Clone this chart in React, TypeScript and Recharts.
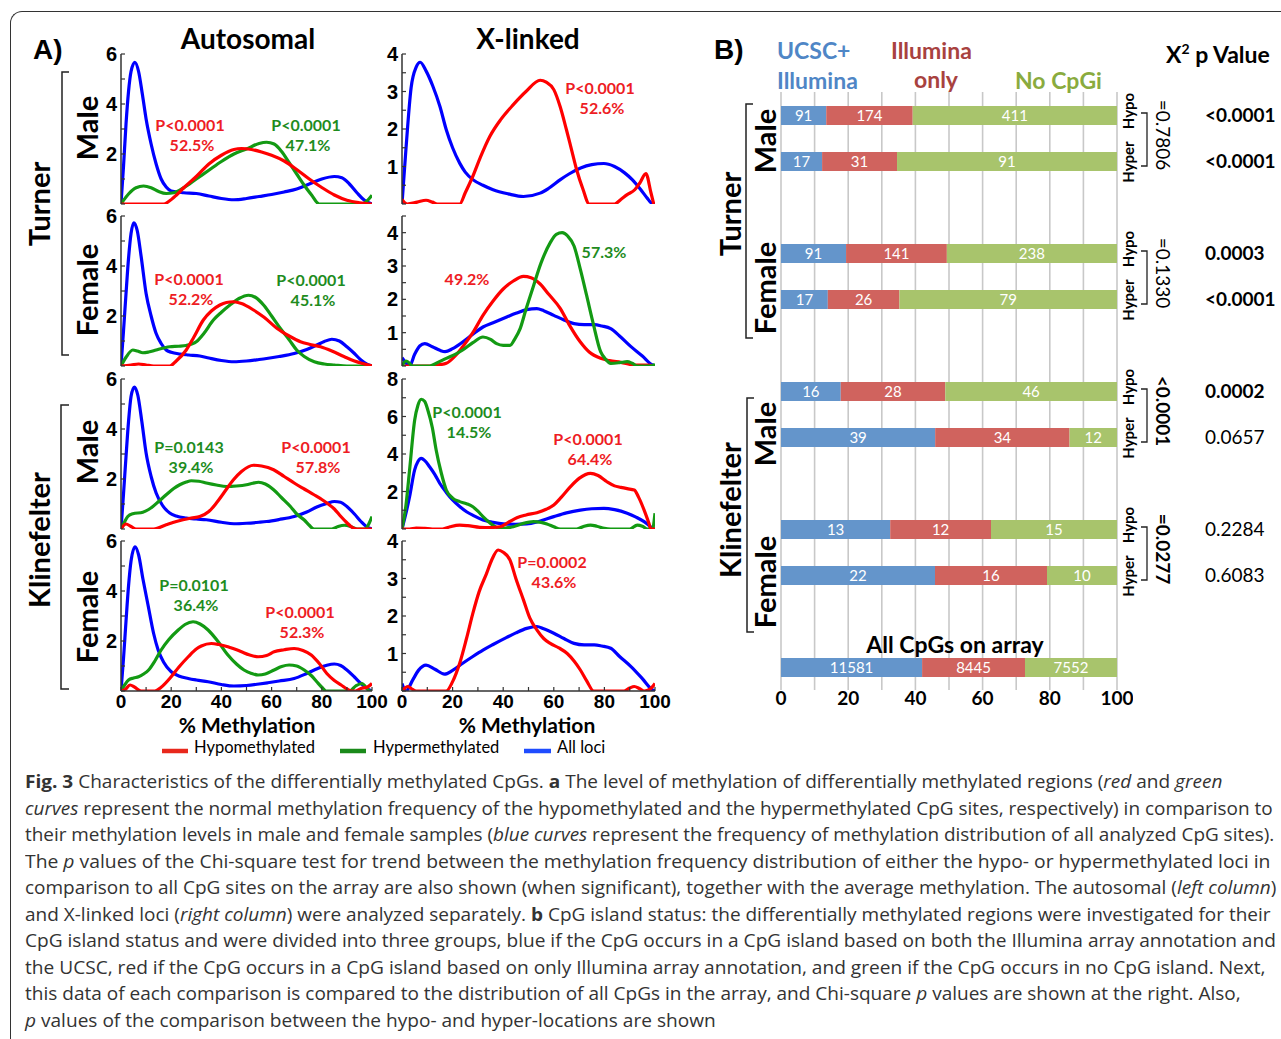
import React, { useLayoutEffect, useRef, useState } from 'react';
import { LineChart, Line, XAxis, YAxis, BarChart, Bar, CartesianGrid, LabelList } from 'recharts';

type Pt = [number, number];

// ---------- panel A: density curves, [% methylation, density] ----------
const autoTurnerMaleAll: Pt[] = [[0,0],[1,1.5],[2,3.2],[3,4.5],[4,5.3],[5.5,5.67],[7,5.3],[8.5,4.4],[10,3.4],[12,2.4],[14,1.6],[16,1.0],[18,0.68],[20,0.52],[25,0.45],[30,0.42],[35,0.32],[40,0.22],[45,0.17],[50,0.22],[55,0.3],[60,0.38],[65,0.48],[70,0.6],[75,0.8],[80,1.0],[85,1.1],[88,1.05],[91,0.8],[94,0.45],[97,0.15],[100,0]];
const autoTurnerMaleHyper: Pt[] = [[0,0],[3,0.4],[6,0.65],[9,0.72],[12,0.65],[15,0.5],[18,0.42],[21,0.45],[25,0.65],[30,1.0],[35,1.35],[40,1.7],[45,2.0],[50,2.2],[55,2.42],[58,2.47],[61,2.4],[64,2.1],[67,1.65],[70,1.2],[73,0.75],[76,0.35],[79,0],[96,0],[100,0.35]];
const autoTurnerMaleHypo: Pt[] = [[0,0],[17,0],[19,0.1],[22,0.35],[25,0.65],[30,1.1],[35,1.6],[40,1.95],[45,2.18],[48,2.22],[52,2.18],[56,2.08],[60,1.95],[65,1.72],[70,1.38],[75,1.0],[80,0.66],[85,0.36],[90,0.15],[95,0.05],[100,0]];

const xTurnerMaleAll: Pt[] = [[0,0],[1.6,1.5],[3.6,3.1],[5.6,3.65],[7.2,3.78],[9.5,3.55],[12.2,3.14],[15,2.6],[17.5,1.98],[20,1.5],[22.8,1.09],[25,0.85],[28,0.65],[32,0.5],[36,0.38],[42,0.27],[48,0.2],[54.6,0.29],[58,0.42],[62.6,0.65],[66,0.8],[70.6,0.96],[75,1.05],[79.8,1.08],[84,1.0],[88,0.83],[91,0.65],[94.4,0.38],[97,0.15],[98.5,0.03],[100,0]];
const xTurnerMaleHypo: Pt[] = [[0,0.12],[2,0],[6,0.05],[9.5,0.1],[12,0.05],[14,0],[22.8,0],[25,0.3],[28,0.74],[31,1.25],[34.7,1.8],[39,2.25],[44,2.65],[49,3.0],[54.6,3.3],[57,3.25],[60,3.05],[62.5,2.6],[65,1.98],[67,1.45],[69,0.92],[71.5,0.4],[74,0],[84,0],[86.5,0.12],[89,0.25],[92,0.38],[94,0.56],[96.4,0.81],[98.4,0.3],[99.5,0]];

const autoTurnerFemaleAll: Pt[] = [[0,0],[1,1.4],[2,2.9],[3,4.3],[4,5.3],[5.1,5.73],[6.5,5.4],[8,4.4],[10,2.9],[12,2.0],[14,1.3],[16,0.9],[18,0.64],[20,0.55],[23.4,0.48],[27,0.44],[31.4,0.4],[35,0.32],[40,0.22],[45,0.17],[50,0.2],[55,0.26],[58,0.3],[63,0.38],[69,0.5],[74,0.66],[78,0.84],[81,0.98],[84,1.07],[87,1.0],[90,0.77],[93,0.5],[95.6,0.24],[98,0.07],[100,0]];
const autoTurnerFemaleHyper: Pt[] = [[0,0],[2,0.35],[4.7,0.64],[6.5,0.6],[8.7,0.53],[11,0.56],[14,0.64],[17,0.72],[19.4,0.77],[23,0.79],[26,0.82],[30,0.97],[33,1.3],[36.8,1.84],[40,2.15],[43.4,2.44],[47,2.7],[50.8,2.83],[53.5,2.75],[56.8,2.44],[60,2.0],[63.5,1.5],[67,1.05],[70,0.64],[73,0.38],[77,0.17],[81,0.08],[85,0.04],[90,0],[100,0]];
const autoTurnerFemaleHypo: Pt[] = [[0,0],[4,0.04],[7,0.08],[10,0.04],[13,0],[19.4,0],[22,0.2],[26,0.64],[29,1.15],[32.8,1.84],[36,2.2],[39.4,2.44],[42,2.54],[44.8,2.57],[48,2.5],[52.8,2.24],[57,1.95],[62.2,1.5],[67,1.2],[71.5,0.97],[75,0.87],[79.5,0.77],[84,0.6],[89,0.37],[93,0.2],[97,0.08],[100,0]];

const xTurnerFemaleAll: Pt[] = [[0,0.25],[1.5,0.1],[3,0],[5,0.35],[7,0.6],[9,0.67],[12,0.58],[15,0.47],[17,0.43],[20,0.52],[24,0.72],[28,0.95],[32,1.17],[36,1.3],[41.4,1.47],[45,1.58],[49.3,1.69],[53.3,1.72],[56,1.66],[60,1.52],[64,1.38],[68,1.27],[72,1.24],[76,1.24],[79,1.2],[82.5,1.12],[86,0.9],[90.5,0.58],[95,0.3],[99,0.03],[100,0]];
const xTurnerFemaleHyper: Pt[] = [[0,0],[1.6,0.15],[3,0.08],[4,0],[11,0],[14,0.1],[17.5,0.23],[21,0.35],[24,0.48],[28,0.7],[32,0.87],[35,0.8],[37.4,0.67],[40,0.62],[42.7,0.62],[44.5,0.8],[46.7,1.12],[49,1.7],[52,2.41],[55,3.1],[58.6,3.7],[61,3.95],[63.3,4.0],[65.5,3.9],[68,3.6],[70.5,2.9],[73,2.11],[75.5,1.3],[78.5,0.43],[80.5,0.2],[82.5,0.08],[86,0.1],[89,0.13],[91,0.08],[93,0],[98,0],[100,0.05]];
const xTurnerFemaleHypo: Pt[] = [[0,0],[11,0],[14,0.03],[17.5,0.08],[21,0.3],[24,0.58],[28,1.0],[32,1.52],[36,1.95],[40,2.31],[44,2.55],[48,2.69],[51,2.65],[54.6,2.46],[58,2.15],[62.6,1.72],[66,1.25],[70.5,0.72],[74,0.42],[78.5,0.23],[82,0.16],[86.5,0.11],[92,0.03],[97,0.03],[100,0]];

const autoKlineMaleAll: Pt[] = [[0,0],[1,1.4],[2,2.9],[3,4.3],[4,5.3],[5.3,5.68],[6.7,5.35],[8.3,4.3],[10,3.04],[12,2.1],[14,1.44],[16.5,0.95],[19.4,0.64],[22,0.52],[26,0.44],[30,0.4],[34,0.37],[40,0.27],[45,0.21],[50,0.23],[55,0.27],[58,0.3],[63,0.38],[69,0.5],[74,0.68],[78,0.88],[82,1.02],[85,1.1],[87.5,1.07],[90,0.9],[93,0.6],[95.6,0.3],[98,0.08],[100,0]];
const autoKlineMaleHyper: Pt[] = [[0,0],[1.5,0.3],[2.7,0.5],[4.7,0.61],[8.7,0.67],[11,0.78],[12.7,0.9],[15,1.1],[18,1.37],[21,1.62],[23.4,1.77],[26,1.88],[28,1.93],[31,1.91],[34,1.84],[38,1.76],[42,1.7],[46,1.72],[50,1.77],[52.5,1.83],[54.8,1.87],[57.5,1.8],[60.8,1.57],[64,1.25],[67.5,0.9],[70,0.6],[72.9,0.37],[75,0.15],[76.9,0],[84,0],[86.5,0.1],[89,0.15],[91.5,0.1],[94,0],[97,0],[100,0.5]];
const autoKlineMaleHypo: Pt[] = [[0,0],[2,0.2],[4,0.1],[6,0],[13,0],[18,0.17],[21,0.27],[24.7,0.37],[28,0.44],[31.4,0.5],[35,0.7],[38,1.04],[41,1.45],[44.8,1.97],[48,2.3],[52.8,2.55],[56,2.52],[60.8,2.37],[65,2.1],[69,1.84],[73,1.6],[76.9,1.37],[80,1.18],[82,1.04],[85,0.8],[87.6,0.5],[90,0.25],[91.6,0.1],[94,0],[100,0]];

const xKlineMaleAll: Pt[] = [[0,0],[1.5,0.8],[3,1.72],[5,3.15],[6.3,3.6],[7.6,3.77],[9,3.65],[10.9,3.32],[13,2.9],[14.9,2.44],[17.5,1.95],[20,1.55],[22.8,1.2],[25.5,0.92],[28.5,0.7],[32,0.48],[36,0.35],[40,0.27],[45,0.25],[49.3,0.27],[54,0.4],[60,0.66],[65,0.86],[70.5,1.01],[75,1.08],[79.8,1.1],[84,1.03],[89,0.84],[92.5,0.63],[95.7,0.39],[98,0.15],[99,0.03],[100,0]];
const xKlineMaleHyper: Pt[] = [[0,0],[1.5,1.2],[3,3.15],[5,5.8],[6.3,6.6],[7.6,6.92],[9,6.8],[10.2,6.35],[12,5.4],[13.5,4.21],[15.5,3.0],[17.5,2.08],[20,1.65],[22.8,1.46],[25.5,1.35],[28,1.19],[30,0.95],[32,0.66],[35,0.3],[38.7,0.03],[41,0.05],[44,0.12],[48,0.3],[52,0.39],[55,0.35],[57.3,0.27],[60,0.12],[62.6,0],[69,0],[72,0.15],[74.5,0.21],[77,0.15],[80,0.03],[82.5,0],[90,0],[93,0.21],[95,0.15],[97,0],[99,0],[100,0.84]];
const xKlineMaleHypo: Pt[] = [[0,0],[3,0],[5.6,0.05],[9,0.03],[12,0],[16,0],[19,0.12],[22.8,0.21],[26,0.18],[30.8,0.09],[35,0.08],[38.7,0.12],[42,0.35],[45.4,0.6],[49,0.75],[53.3,0.87],[57,1.05],[60,1.28],[63,1.7],[66.6,2.26],[70,2.7],[74.5,2.97],[77.5,2.85],[81,2.52],[84,2.3],[86.5,2.22],[89,2.15],[91.8,2.08],[93.5,1.7],[95.7,1.01],[97.5,0.35],[98.4,0],[100,0]];

const autoKlineFemaleAll: Pt[] = [[0,0],[1,1.3],[2,2.8],[3,4.2],[4,5.2],[5.6,5.77],[7,5.45],[8.7,4.5],[10.9,3.37],[13,2.3],[14.8,1.64],[17,1.15],[20,0.77],[23,0.6],[26.8,0.5],[30,0.44],[34.7,0.37],[40,0.26],[45,0.2],[50,0.22],[55,0.28],[58.5,0.33],[63,0.4],[69,0.5],[74,0.7],[78.4,0.9],[82,1.03],[85,1.08],[87.5,1.02],[90,0.84],[93,0.56],[95.6,0.3],[98,0.1],[100,0]];
const autoKlineFemaleHyper: Pt[] = [[0,0],[1.5,0.25],[3,0.44],[5,0.52],[7,0.57],[9,0.68],[11,0.84],[13.5,1.2],[16,1.64],[19,2.05],[22.8,2.44],[25.5,2.66],[28.7,2.77],[31.5,2.68],[34.7,2.44],[38.5,2.0],[42.6,1.44],[46,1.08],[49,0.84],[52,0.7],[54.6,0.64],[57.5,0.68],[61,0.84],[64,0.98],[67,1.04],[70,1.0],[73,0.84],[76,0.6],[78,0.37],[80,0.15],[81.7,0],[91,0],[93.5,0.2],[96,0.3],[98,0.1],[99,0],[100,0]];
const autoKlineFemaleHypo: Pt[] = [[0,0],[1.6,0.05],[3.6,0.24],[5.5,0.15],[8,0],[13.5,0],[16,0.15],[20,0.57],[23,0.95],[26.8,1.37],[30,1.68],[32,1.8],[36,1.9],[39,1.86],[42.6,1.77],[48,1.57],[51,1.45],[54.6,1.37],[58,1.42],[61,1.57],[65,1.65],[69,1.7],[72.5,1.62],[75.8,1.44],[79,1.1],[82,0.7],[85,0.42],[87.7,0.24],[90,0.08],[91.6,0],[93.5,0],[95.6,0.1],[98,0.15],[100,0.3]];

const xKlineFemaleAll: Pt[] = [[0,0.2],[1.6,0],[4.2,0.29],[6.5,0.55],[9.5,0.69],[13,0.58],[16.8,0.45],[20,0.55],[24,0.74],[28,0.92],[32,1.09],[36,1.24],[41.4,1.43],[45,1.55],[49.3,1.67],[53.3,1.72],[56,1.66],[60,1.54],[64,1.4],[68,1.27],[72,1.23],[76,1.23],[79,1.2],[82.5,1.14],[86,0.92],[90.5,0.65],[95,0.33],[99,0.03],[100,0]];
const xKlineFemaleHypo: Pt[] = [[0,0],[2.3,0.12],[4,0.05],[5.6,0],[17.5,0],[20,0.25],[22.8,0.74],[25.5,1.4],[28,2.07],[30.5,2.65],[33.4,3.13],[35.5,3.5],[38,3.76],[40,3.7],[42.7,3.49],[45,3.0],[48,2.43],[50.5,1.95],[53.3,1.63],[56,1.4],[58.6,1.27],[62,1.15],[65.3,1.0],[68,0.8],[70.5,0.56],[73,0.27],[75.8,0],[87.8,0],[90,0.08],[91.8,0.12],[94,0.06],[95.7,0],[98,0.05],[100,0.2]];

// axis ticks for panel A
const methTicks = [0, 10, 20, 30, 40, 50, 60, 70, 80, 90, 100];
const methLabels = [0, 20, 40, 60, 80, 100];
const autoYTicks = [0, 1, 2, 3, 4, 5, 6];
const autoYLabels = [2, 4, 6];
const xYTicks4 = [0, 0.5, 1, 1.5, 2, 2.5, 3, 3.5, 4];
const xYTicks45 = [0, 0.5, 1, 1.5, 2, 2.5, 3, 3.5, 4, 4.5];
const xYLabels4 = [1, 2, 3, 4];
const xYTicks8 = [0, 1, 2, 3, 4, 5, 6, 7, 8];
const xYLabels8 = [2, 4, 6, 8];

// ---------- panel B: CpG island status counts ----------
const bCategories = ['TM hypo', 'TM hyper', 'gap1', 'TF hypo', 'TF hyper', 'gap2', 'KM hypo', 'KM hyper', 'gap3', 'KF hypo', 'KF hyper', 'gap4', 'All CpGs'];
const ucscIllumina = [91, 17, null, 91, 17, null, 16, 39, null, 13, 22, null, 11581];
const illuminaOnly = [174, 31, null, 141, 26, null, 28, 34, null, 12, 16, null, 8445];
const noCpGi = [411, 91, null, 238, 79, null, 46, 12, null, 15, 10, null, 7552];
const bTicks = [0, 0.1, 0.2, 0.3, 0.4, 0.5, 0.6, 0.7, 0.8, 0.9, 1];
const bTickLabels = ['0', '20', '40', '60', '80', '100'];
const chiP = ['<0.0001', '<0.0001', '0.0003', '<0.0001', '0.0002', '0.0657', '0.2284', '0.6083'];
const chiBold = [true, true, true, true, true, false, false, false];
const hypoHyperP = ['=0.7806', '=0.1330', '<0.0001', '=0.0277'];

const ARIAL = '"Liberation Sans", Arial, sans-serif';
const LATO = 'Lato, "Open Sans", sans-serif';
const OPEN = '"Open Sans", "Noto Sans", sans-serif';
const RED = '#ff0000';
const GREEN = '#139a13';
const BLUE = '#0000ff';
const AX = '#333';
const PLOT_H = 150;

const tickX = { fontFamily: ARIAL, fontWeight: 700, fontSize: 19, fill: '#000' };
const tickY = { fontFamily: ARIAL, fontWeight: 700, fontSize: 20, fill: '#000' };

type Curve = { pts: Pt[]; color: string };

function DensityPlot({ left, top, width, yTicks, yLabels, curves, showX }: {
  left: number; top: number; width: number; yTicks: number[]; yLabels: number[]; curves: Curve[]; showX?: boolean;
}) {
  const yMax = yTicks[yTicks.length - 1];
  const xh = showX ? 34 : 0;
  return (
    <div style={{ position: 'absolute', left: left - 30, top: top - 12 }}>
      <LineChart width={30 + width + 20} height={12 + PLOT_H + (showX ? xh : 4)} margin={{ top: 12, right: 20, bottom: showX ? 0 : 4, left: 0 }}>
        <XAxis xAxisId="b" type="number" dataKey="m" domain={[0, 100]} allowDataOverflow ticks={methTicks} interval={0}
          height={xh} tickSize={-4} tickMargin={8} tick={showX ? tickX : false}
          tickFormatter={(v: number) => (methLabels.includes(v) ? String(v) : '')}
          axisLine={{ stroke: AX, strokeWidth: 1.5 }} tickLine={{ stroke: AX, strokeWidth: 1.2 }} />
        <XAxis xAxisId="t" orientation="top" type="number" domain={[0, 100]} allowDataOverflow ticks={methTicks} interval={0}
          height={0} tickSize={-4} tick={false} axisLine={{ stroke: AX, strokeWidth: 1.5 }} tickLine={{ stroke: AX, strokeWidth: 1.2 }} />
        <YAxis yAxisId="l" type="number" domain={[0, yMax]} allowDataOverflow ticks={yTicks} interval={0} width={30}
          tickSize={-4} tickMargin={8} tick={tickY}
          tickFormatter={(v: number) => (yLabels.includes(v) ? String(v) : '')}
          axisLine={{ stroke: AX, strokeWidth: 1.5 }} tickLine={{ stroke: AX, strokeWidth: 1.2 }} />
        <YAxis yAxisId="r" orientation="right" type="number" domain={[0, yMax]} allowDataOverflow ticks={yTicks} interval={0} width={0}
          tickSize={-4} tick={false} axisLine={{ stroke: AX, strokeWidth: 1.5 }} tickLine={{ stroke: AX, strokeWidth: 1.2 }} />
        {curves.map((c, i) => (
          <Line key={i} xAxisId="b" yAxisId="l" data={c.pts.map(([m, d]) => ({ m, d }))} dataKey="d" type="monotone"
            stroke={c.color} strokeWidth={3.2} dot={false} activeDot={false} isAnimationActive={false} />
        ))}
      </LineChart>
    </div>
  );
}

function CapLine({ top, target, children }: { top: number; target: number; children: React.ReactNode }) {
  const ref = useRef<HTMLSpanElement>(null);
  const [k, setK] = useState(1);
  useLayoutEffect(() => {
    const el = ref.current;
    if (el && el.offsetWidth > 0) setK(target / el.offsetWidth);
  }, [target]);
  return (
    <div style={{ position: 'absolute', left: 25, top, whiteSpace: 'nowrap', lineHeight: '24px', transformOrigin: '0 0', transform: `scaleX(${k})` }}>
      <span ref={ref} style={{ display: 'inline-block' }}>{children}</span>
    </div>
  );
}

const rowTops = [54, 216, 379, 541];
const autoLeft = 121, autoW = 251;
const xLeft = 402, xW = 253;
const bBarY = [115, 161, 253, 299, 391, 437, 529, 575];

function Rot({ x, y, angle, size, bold = true, children, family = LATO }: { x: number; y: number; angle: number; size: number; bold?: boolean; children: React.ReactNode; family?: string }) {
  return (
    <text transform={`translate(${x},${y}) rotate(${angle})`} textAnchor="middle" fontFamily={family} fontWeight={bold ? 700 : 400} fontSize={size} fill="#000">{children}</text>
  );
}

function Note({ x, y, color, lines }: { x: number; y: number; color: string; lines: string[] }) {
  return (
    <g fontFamily={LATO} fontWeight={700} fontSize={16} fill={color} textAnchor="middle">
      {lines.map((t, i) => <text key={i} x={x + i * 2} y={y + i * 19.5}>{t}</text>)}
    </g>
  );
}

export default function App() {
  const bRows = bCategories.map((name, i) => ({ name, ucsc: ucscIllumina[i], illum: illuminaOnly[i], none: noCpGi[i] }));
  const lbl = { position: 'center' as const, fill: '#fff', fontSize: 15, fontFamily: LATO, formatter: (v: any) => (v == null ? '' : v) };
  return (
    <div style={{ position: 'absolute', left: 0, top: 0, width: 1281, height: 1039, background: '#fff', overflow: 'hidden', fontFamily: OPEN }}>
      <div style={{ position: 'absolute', left: 10, top: 11, width: 1400, height: 1200, borderTop: '1.5px solid #333', borderLeft: '1.5px solid #333', borderTopLeftRadius: 12 }} />

      {/* Panel A */}
      <DensityPlot left={autoLeft} top={rowTops[0]} width={autoW} yTicks={autoYTicks} yLabels={autoYLabels}
        curves={[{ pts: autoTurnerMaleAll, color: BLUE }, { pts: autoTurnerMaleHyper, color: GREEN }, { pts: autoTurnerMaleHypo, color: RED }]} />
      <DensityPlot left={xLeft} top={rowTops[0]} width={xW} yTicks={xYTicks4} yLabels={xYLabels4}
        curves={[{ pts: xTurnerMaleAll, color: BLUE }, { pts: xTurnerMaleHypo, color: RED }]} />
      <DensityPlot left={autoLeft} top={rowTops[1]} width={autoW} yTicks={autoYTicks} yLabels={autoYLabels}
        curves={[{ pts: autoTurnerFemaleAll, color: BLUE }, { pts: autoTurnerFemaleHyper, color: GREEN }, { pts: autoTurnerFemaleHypo, color: RED }]} />
      <DensityPlot left={xLeft} top={rowTops[1]} width={xW} yTicks={xYTicks45} yLabels={xYLabels4}
        curves={[{ pts: xTurnerFemaleAll, color: BLUE }, { pts: xTurnerFemaleHypo, color: RED }, { pts: xTurnerFemaleHyper, color: GREEN }]} />
      <DensityPlot left={autoLeft} top={rowTops[2]} width={autoW} yTicks={autoYTicks} yLabels={autoYLabels}
        curves={[{ pts: autoKlineMaleAll, color: BLUE }, { pts: autoKlineMaleHyper, color: GREEN }, { pts: autoKlineMaleHypo, color: RED }]} />
      <DensityPlot left={xLeft} top={rowTops[2]} width={xW} yTicks={xYTicks8} yLabels={xYLabels8}
        curves={[{ pts: xKlineMaleAll, color: BLUE }, { pts: xKlineMaleHyper, color: GREEN }, { pts: xKlineMaleHypo, color: RED }]} />
      <DensityPlot left={autoLeft} top={rowTops[3]} width={autoW} yTicks={autoYTicks} yLabels={autoYLabels} showX
        curves={[{ pts: autoKlineFemaleAll, color: BLUE }, { pts: autoKlineFemaleHyper, color: GREEN }, { pts: autoKlineFemaleHypo, color: RED }]} />
      <DensityPlot left={xLeft} top={rowTops[3]} width={xW} yTicks={xYTicks4} yLabels={xYLabels4} showX
        curves={[{ pts: xKlineFemaleAll, color: BLUE }, { pts: xKlineFemaleHypo, color: RED }]} />

      {/* Panel B */}
      <div style={{ position: 'absolute', left: 771, top: 92 }}>
        <BarChart layout="vertical" width={362} height={628} data={bRows} stackOffset="expand" barSize={19}
          margin={{ top: 0, right: 16, bottom: 0, left: 10 }}>
          <CartesianGrid horizontal={false} stroke="#c8c8c8" strokeWidth={1.6} />
          <XAxis type="number" domain={[0, 1]} ticks={bTicks} interval={0} height={30} axisLine={false} tickLine={false}
            tickSize={0} tickMargin={2} tick={{ fontFamily: LATO, fontWeight: 700, fontSize: 19, fill: '#000' }}
            tickFormatter={(v: number) => { const s = String(Math.round(v * 100)); return bTickLabels.includes(s) ? s : ''; }} />
          <YAxis type="category" dataKey="name" hide />
          <Bar dataKey="ucsc" stackId="s" fill="#6495cb" isAnimationActive={false}><LabelList dataKey="ucsc" {...lbl} /></Bar>
          <Bar dataKey="illum" stackId="s" fill="#d0635e" isAnimationActive={false}><LabelList dataKey="illum" {...lbl} /></Bar>
          <Bar dataKey="none" stackId="s" fill="#a8c46c" isAnimationActive={false}><LabelList dataKey="none" {...lbl} /></Bar>
        </BarChart>
      </div>

      <svg width={1281} height={1039} style={{ position: 'absolute', left: 0, top: 0, pointerEvents: 'none' }}>
        {/* panel A labels */}
        <text x={33} y={59} fontFamily={ARIAL} fontWeight={700} fontSize={28}>A)</text>
        <text x={248} y={49} textAnchor="middle" fontFamily={LATO} fontWeight={700} fontSize={28}>Autosomal</text>
        <text x={528} y={49} textAnchor="middle" fontFamily={LATO} fontWeight={700} fontSize={28}>X-linked</text>
        <Rot x={50} y={204} angle={-90} size={29}>Turner</Rot>
        <Rot x={50} y={540} angle={-90} size={29}>Klinefelter</Rot>
        <Rot x={98} y={128} angle={-90} size={29}>Male</Rot>
        <Rot x={98} y={290} angle={-90} size={29}>Female</Rot>
        <Rot x={98} y={452} angle={-90} size={29}>Male</Rot>
        <Rot x={98} y={617} angle={-90} size={29}>Female</Rot>
        <g fill="none" stroke="#222" strokeWidth={1.5}>
          <path d="M69,72 H62 V355 H69" />
          <path d="M69,405 H61 V689 H69" />
        </g>
        <Note x={190} y={131} color="#ee1c24" lines={['P<0.0001', '52.5%']} />
        <Note x={306} y={131} color="#1e8c1e" lines={['P<0.0001', '47.1%']} />
        <Note x={600} y={94} color="#ee1c24" lines={['P<0.0001', '52.6%']} />
        <Note x={189} y={285} color="#ee1c24" lines={['P<0.0001', '52.2%']} />
        <Note x={311} y={286} color="#1e8c1e" lines={['P<0.0001', '45.1%']} />
        <Note x={467} y={285} color="#ee1c24" lines={['49.2%']} />
        <Note x={604} y={258} color="#1e8c1e" lines={['57.3%']} />
        <Note x={189} y={453} color="#1e8c1e" lines={['P=0.0143', '39.4%']} />
        <Note x={316} y={453} color="#ee1c24" lines={['P<0.0001', '57.8%']} />
        <Note x={467} y={418} color="#1e8c1e" lines={['P<0.0001', '14.5%']} />
        <Note x={588} y={445} color="#ee1c24" lines={['P<0.0001', '64.4%']} />
        <Note x={194} y={591} color="#1e8c1e" lines={['P=0.0101', '36.4%']} />
        <Note x={300} y={618} color="#ee1c24" lines={['P<0.0001', '52.3%']} />
        <Note x={552} y={568} color="#ee1c24" lines={['P=0.0002', '43.6%']} />
        <text x={247} y={733} textAnchor="middle" fontFamily={LATO} fontWeight={700} fontSize={21}>% Methylation</text>
        <text x={527} y={733} textAnchor="middle" fontFamily={LATO} fontWeight={700} fontSize={21}>% Methylation</text>
        <g strokeWidth={4.5}>
          <line x1={162} x2={188} y1={751} y2={751} stroke="#e8281c" />
          <line x1={340} x2={366} y1={751} y2={751} stroke="#1a8a1a" />
          <line x1={524} x2={551} y1={751} y2={751} stroke="#1f4cff" />
        </g>
        <g fontFamily={LATO} fontSize={16.5} fill="#000">
          <text x={194} y={753}>Hypomethylated</text>
          <text x={373} y={753}>Hypermethylated</text>
          <text x={557} y={753}>All loci</text>
        </g>

        {/* panel B labels */}
        <text x={714} y={59} fontFamily={ARIAL} fontWeight={700} fontSize={28}>B)</text>
        <g fontFamily={LATO} fontWeight={700} fontSize={23}>
          <text x={777} y={59} fill="#4f86c6">UCSC+</text>
          <text x={777} y={89} fill="#4f86c6">Illumina</text>
          <text x={891} y={59} fill="#a8423f">Illumina</text>
          <text x={936} y={88} fill="#a8423f" textAnchor="middle">only</text>
          <text x={1015} y={89} fill="#8aab3e">No CpGi</text>
          <text x={1166} y={63} fill="#000">X<tspan fontSize={14} dy={-9}>2</tspan><tspan dy={9}> p Value</tspan></text>
        </g>
        <Rot x={741} y={214} angle={-90} size={29}>Turner</Rot>
        <Rot x={741} y={510} angle={-90} size={29}>Klinefelter</Rot>
        <Rot x={776} y={141} angle={-90} size={29}>Male</Rot>
        <Rot x={776} y={288} angle={-90} size={29}>Female</Rot>
        <Rot x={776} y={434} angle={-90} size={29}>Male</Rot>
        <Rot x={776} y={582} angle={-90} size={29}>Female</Rot>
        <g fill="none" stroke="#222" strokeWidth={1.5}>
          <path d="M753,104 H746 V338 H753" />
          <path d="M754,398 H747 V632 H754" />
        </g>
        {[0, 1, 2, 3].map((g) => {
          const y1 = bBarY[g * 2], y2 = bBarY[g * 2 + 1];
          return (
            <g key={g}>
              <Rot x={1134} y={y1 - 4} angle={-90} size={15}>Hypo</Rot>
              <Rot x={1134} y={y2 + 1} angle={-90} size={15}>Hyper</Rot>
              <path d={`M1141,${y1 - 2} H1147 V${y2 + 5} H1141`} fill="none" stroke="#222" strokeWidth={1.3} />
              <Rot x={1156} y={(y1 + y2) / 2 - 3} angle={90} size={19} bold={g >= 2}>{hypoHyperP[g]}</Rot>
            </g>
          );
        })}
        <g fontFamily={LATO} fontSize={19} fill="#000">
          {chiP.map((p, i) => (
            <text key={i} x={1205} y={bBarY[i] + 7} fontWeight={chiBold[i] ? 700 : 400}>{p}</text>
          ))}
        </g>
        <text x={955} y={653} textAnchor="middle" fontFamily={LATO} fontWeight={700} fontSize={23}>All CpGs on array</text>
      </svg>

      {/* caption */}
      <div style={{ fontFamily: OPEN, fontSize: 18, color: '#333' }}>
        <CapLine top={769} target={1197}><b>Fig. 3</b> Characteristics of the differentially methylated CpGs. <b>a</b> The level of methylation of differentially methylated regions (<i>red</i> and <i>green</i></CapLine>
        <CapLine top={796} target={1248}><i>curves</i> represent the normal methylation frequency of the hypomethylated and the hypermethylated CpG sites, respectively) in comparison to</CapLine>
        <CapLine top={822} target={1249}>their methylation levels in male and female samples (<i>blue curves</i> represent the frequency of methylation distribution of all analyzed CpG sites).</CapLine>
        <CapLine top={849} target={1245}>The <i>p</i> values of the Chi-square test for trend between the methylation frequency distribution of either the hypo- or hypermethylated loci in</CapLine>
        <CapLine top={875} target={1251}>comparison to all CpG sites on the array are also shown (when significant), together with the average methylation. The autosomal (<i>left column</i>)</CapLine>
        <CapLine top={902} target={1246}>and X-linked loci (<i>right column</i>) were analyzed separately. <b>b</b> CpG island status: the differentially methylated regions were investigated for their</CapLine>
        <CapLine top={928} target={1251}>CpG island status and were divided into three groups, blue if the CpG occurs in a CpG island based on both the Illumina array annotation and</CapLine>
        <CapLine top={955} target={1241}>the UCSC, red if the CpG occurs in a CpG island based on only Illumina array annotation, and green if the CpG occurs in no CpG island. Next,</CapLine>
        <CapLine top={981} target={1216}>this data of each comparison is compared to the distribution of all CpGs in the array, and Chi-square <i>p</i> values are shown at the right. Also,</CapLine>
        <CapLine top={1008} target={691}><i>p</i> values of the comparison between the hypo- and hyper-locations are shown</CapLine>
      </div>
    </div>
  );
}
